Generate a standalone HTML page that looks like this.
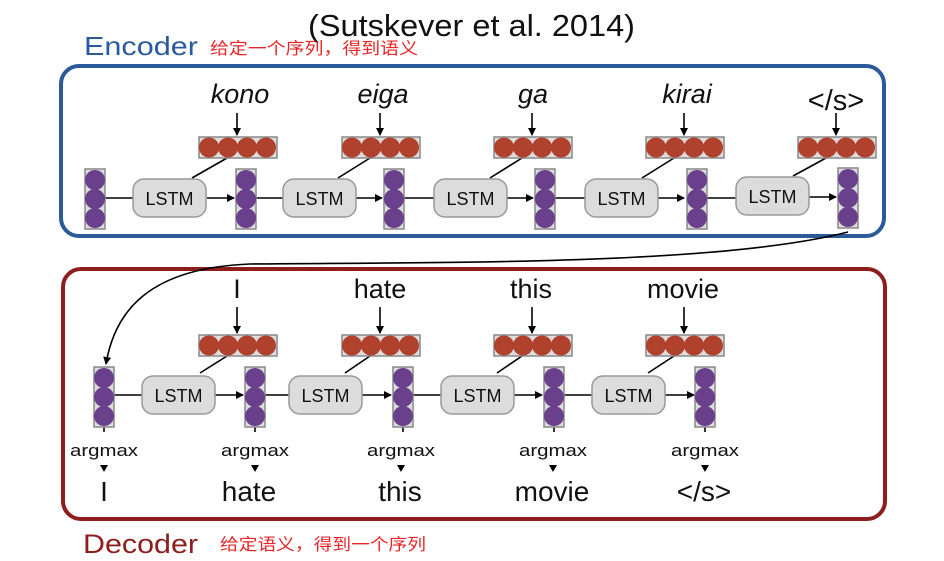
<!DOCTYPE html>
<html><head><meta charset="utf-8"><style>
html,body{margin:0;padding:0;background:#fff;}
svg{display:block;font-family:"Liberation Sans","Noto Sans CJK SC",sans-serif;}
</style></head><body>
<svg width="944" height="561" viewBox="0 0 944 561" xmlns="http://www.w3.org/2000/svg">
<defs>
<g id="rv">
<rect x="0" y="0" width="78" height="21" fill="#ddd" stroke="#888" stroke-width="1.5"/>
<circle cx="10" cy="10.5" r="10" fill="#b0412c"/><circle cx="29" cy="10.5" r="10" fill="#b0412c"/><circle cx="48" cy="10.5" r="10" fill="#b0412c"/><circle cx="67" cy="10.5" r="10" fill="#b0412c"/>
</g>
<g id="pv">
<rect x="0" y="0" width="20" height="60" fill="#ddd" stroke="#888" stroke-width="1.5"/>
<circle cx="10" cy="11" r="10" fill="#6a3f8c"/><circle cx="10" cy="30" r="10" fill="#6a3f8c"/><circle cx="10" cy="49" r="10" fill="#6a3f8c"/>
</g>
<g id="ls">
<rect x="0" y="0" width="73" height="38" rx="11" fill="#dcdcdc" stroke="#999" stroke-width="1.5"/>
<text x="36.5" y="26" font-size="18" text-anchor="middle" fill="#111">LSTM</text>
</g>
<marker id="ah" markerWidth="8" markerHeight="8" refX="7" refY="4" orient="auto" markerUnits="userSpaceOnUse"><path d="M0,0 L8,4 L0,8 z" fill="#000"/></marker>
</defs>

<text x="308" y="36" font-size="31" textLength="327" lengthAdjust="spacingAndGlyphs" fill="#111">(Sutskever et al. 2014)</text>
<text x="84" y="55" font-size="26" textLength="114" lengthAdjust="spacingAndGlyphs" fill="#2b5a9e">Encoder</text>
<text x="210" y="54" font-size="16.5" textLength="208" lengthAdjust="spacingAndGlyphs" fill="#e8262a">给定一个序列，得到语义</text>

<rect x="61" y="66" width="823" height="170" rx="18" fill="none" stroke="#2a5a9a" stroke-width="4"/>
<rect x="63" y="269" width="822" height="250" rx="18" fill="none" stroke="#8e1d1d" stroke-width="4"/>

<text x="83" y="553" font-size="27" textLength="115" lengthAdjust="spacingAndGlyphs" fill="#8e1d1d">Decoder</text>
<text x="220" y="550" font-size="16.5" textLength="206" lengthAdjust="spacingAndGlyphs" fill="#e8262a">给定语义，得到一个序列</text>

<!-- Encoder -->
<g font-size="27" font-style="italic" text-anchor="middle" fill="#111">
<text x="240" y="103">kono</text><text x="383" y="103">eiga</text><text x="533" y="103">ga</text><text x="687" y="103">kirai</text>
</g>
<text x="836" y="110" font-size="29" text-anchor="middle" fill="#111">&lt;/s&gt;</text>
<g stroke="#000" stroke-width="1.6" fill="none" marker-end="url(#ah)">
<line x1="237" y1="113" x2="237" y2="135"/><line x1="380" y1="113" x2="380" y2="135"/><line x1="532" y1="113" x2="532" y2="135"/><line x1="684" y1="113" x2="684" y2="135"/><line x1="836" y1="113" x2="836" y2="135"/>
<line x1="207" y1="198" x2="234" y2="198"/><line x1="355" y1="198" x2="382" y2="198"/><line x1="506" y1="198" x2="533" y2="198"/><line x1="657" y1="198" x2="684" y2="198"/><line x1="808" y1="197" x2="836" y2="197"/>
</g>
<g stroke="#000" stroke-width="1.6">
<line x1="105" y1="198" x2="133" y2="198"/><line x1="256" y1="198" x2="283" y2="198"/><line x1="404" y1="198" x2="435" y2="198"/><line x1="555" y1="198" x2="585" y2="198"/><line x1="707" y1="198" x2="737" y2="198"/>
<line x1="227" y1="158" x2="192" y2="178"/><line x1="370" y1="158" x2="338" y2="178"/><line x1="522" y1="158" x2="490" y2="178"/><line x1="674" y1="158" x2="642" y2="178"/><line x1="826" y1="158" x2="793" y2="176"/>
</g>
<use href="#rv" x="199" y="137"/><use href="#rv" x="342" y="137"/><use href="#rv" x="494" y="137"/><use href="#rv" x="646" y="137"/><use href="#rv" x="798" y="137"/>
<use href="#pv" x="85" y="169"/><use href="#pv" x="236" y="169"/><use href="#pv" x="384" y="169"/><use href="#pv" x="535" y="169"/><use href="#pv" x="687" y="169"/><use href="#pv" x="838" y="168"/>
<use href="#ls" x="133" y="179"/><use href="#ls" x="283" y="179"/><use href="#ls" x="434" y="179"/><use href="#ls" x="585" y="179"/><use href="#ls" x="736" y="177"/>

<path d="M848,232 C720,265 450,262 250,264 C150,268 115,310 106,364" stroke="#000" stroke-width="1.6" fill="none" marker-end="url(#ah)"/>

<!-- Decoder -->
<g font-size="27" text-anchor="middle" fill="#111">
<text x="237" y="298">I</text><text x="380" y="298">hate</text><text x="531" y="298">this</text><text x="683" y="298">movie</text>
</g>
<g font-size="28" text-anchor="middle" fill="#111">
<text x="104" y="501">I</text><text x="249" y="501">hate</text><text x="400" y="501">this</text><text x="552" y="501">movie</text><text x="704" y="501">&lt;/s&gt;</text>
</g>
<g font-size="17" fill="#111">
<text x="70" y="456" textLength="68" lengthAdjust="spacingAndGlyphs">argmax</text><text x="221" y="456" textLength="68" lengthAdjust="spacingAndGlyphs">argmax</text><text x="367" y="456" textLength="68" lengthAdjust="spacingAndGlyphs">argmax</text><text x="519" y="456" textLength="68" lengthAdjust="spacingAndGlyphs">argmax</text><text x="671" y="456" textLength="68" lengthAdjust="spacingAndGlyphs">argmax</text>
</g>
<g fill="#000">
<path d="M100,465 L108,465 L104,472 z"/><path d="M251,465 L259,465 L255,472 z"/><path d="M397,465 L405,465 L401,472 z"/><path d="M549,465 L557,465 L553,472 z"/><path d="M701,465 L709,465 L705,472 z"/>
</g>
<g stroke="#000" stroke-width="1.6" fill="none" marker-end="url(#ah)">
<line x1="237" y1="307" x2="237" y2="333"/><line x1="380" y1="307" x2="380" y2="333"/><line x1="532" y1="307" x2="532" y2="333"/><line x1="684" y1="307" x2="684" y2="333"/>
<line x1="215" y1="395" x2="243" y2="395"/><line x1="362" y1="395" x2="391" y2="395"/><line x1="513" y1="395" x2="542" y2="395"/><line x1="664" y1="395" x2="694" y2="395"/>
</g>
<g stroke="#000" stroke-width="1.6">
<line x1="114" y1="395" x2="142" y2="395"/><line x1="265" y1="395" x2="289" y2="395"/><line x1="413" y1="395" x2="441" y2="395"/><line x1="564" y1="395" x2="592" y2="395"/>
<line x1="227" y1="356" x2="200" y2="373"/><line x1="370" y1="356" x2="345" y2="373"/><line x1="522" y1="356" x2="497" y2="373"/><line x1="674" y1="356" x2="648" y2="373"/>
<line x1="104" y1="427" x2="104" y2="432"/><line x1="255" y1="427" x2="255" y2="432"/><line x1="403" y1="427" x2="403" y2="432"/><line x1="554" y1="427" x2="554" y2="432"/><line x1="705" y1="427" x2="705" y2="432"/>
</g>
<use href="#rv" x="199" y="335"/><use href="#rv" x="342" y="335"/><use href="#rv" x="494" y="335"/><use href="#rv" x="646" y="335"/>
<use href="#pv" x="94" y="367"/><use href="#pv" x="245" y="367"/><use href="#pv" x="393" y="367"/><use href="#pv" x="544" y="367"/><use href="#pv" x="695" y="367"/>
<use href="#ls" x="142" y="376"/><use href="#ls" x="289" y="376"/><use href="#ls" x="441" y="376"/><use href="#ls" x="592" y="376"/>
</svg>
</body></html>
